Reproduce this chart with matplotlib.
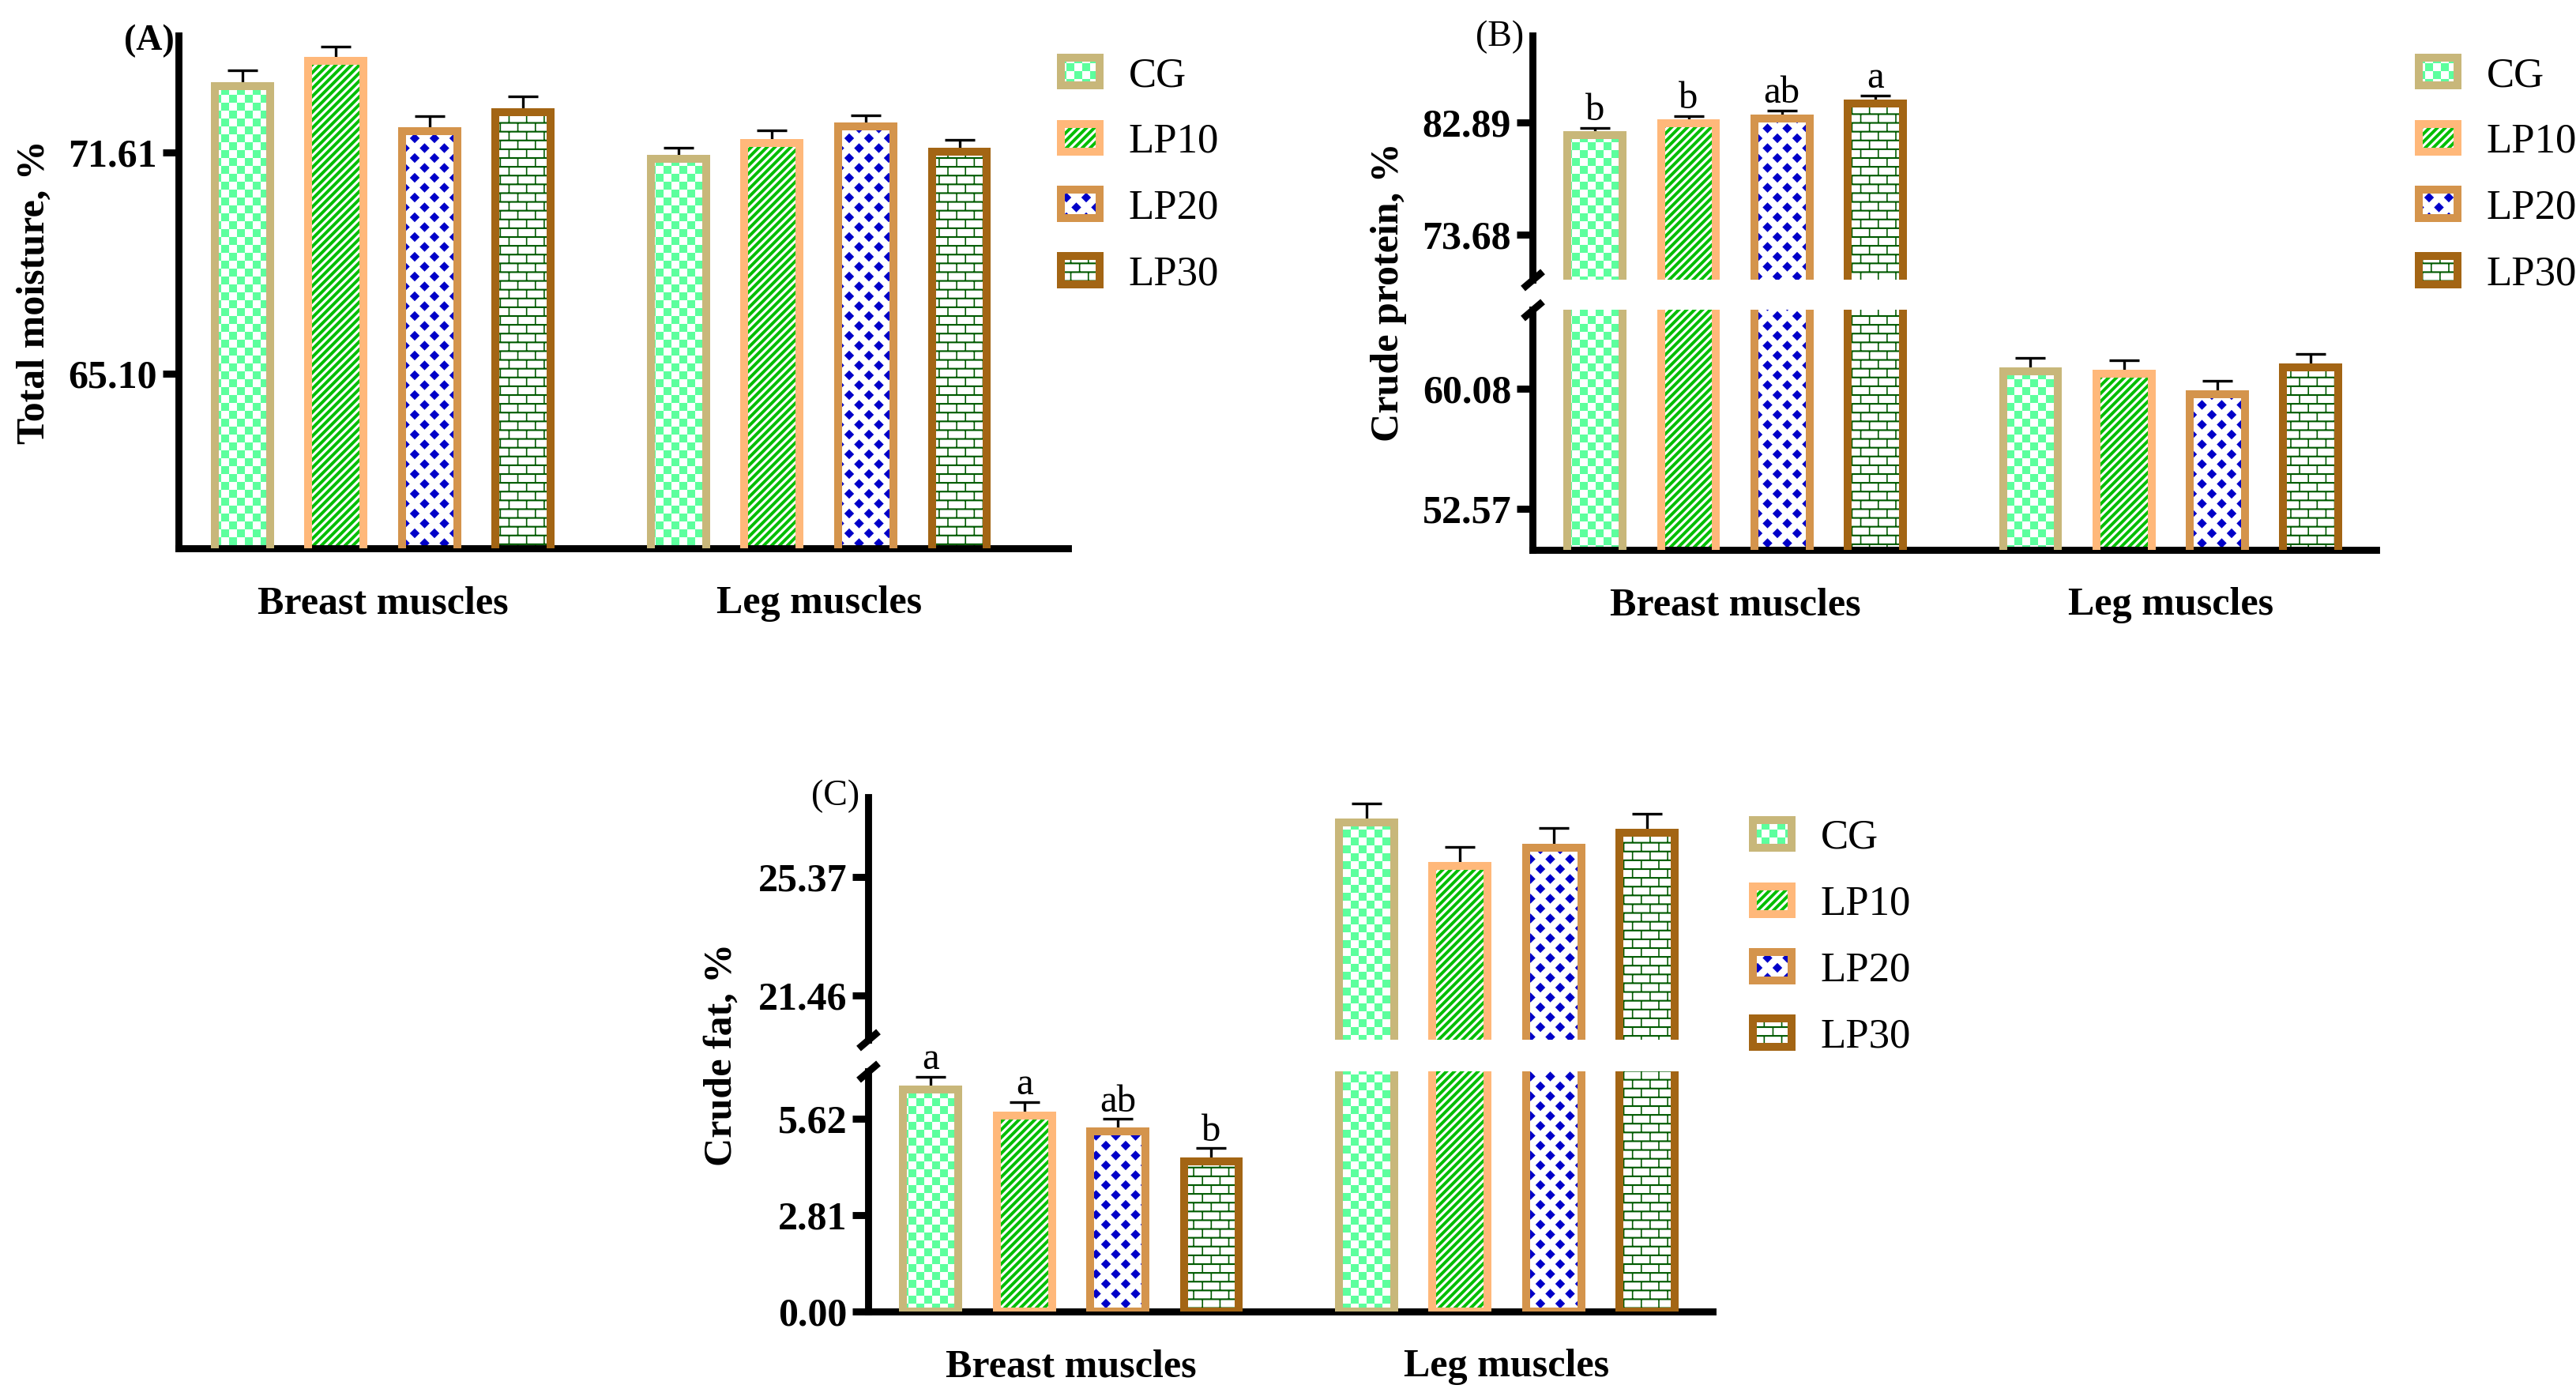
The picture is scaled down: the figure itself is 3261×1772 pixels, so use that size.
import warnings
import numpy as np
import matplotlib
matplotlib.use("Agg")
import matplotlib.pyplot as plt
import matplotlib.hatch as mhatch
from matplotlib.path import Path
from matplotlib.patches import Patch
from matplotlib.legend_handler import HandlerTuple

warnings.filterwarnings("ignore")

# ---- data ----
groups = ["Breast muscles", "Leg muscles"]
series = ["CG", "LP10", "LP20", "LP30"]

moisture_breast = [73.57, 74.31, 72.23, 72.80]
moisture_breast_err = [0.45, 0.42, 0.44, 0.45]
moisture_leg = [71.42, 71.89, 72.37, 71.63]
moisture_leg_err = [0.32, 0.36, 0.32, 0.36]
moisture_ticks = [65.10, 71.61]

protein_breast = [81.85, 82.83, 83.23, 84.41]
protein_breast_err = [0.60, 0.60, 0.64, 0.67]
protein_leg = [61.13, 60.98, 59.71, 61.38]
protein_leg_err = [0.85, 0.86, 0.84, 0.86]
protein_letters = ["b", "b", "ab", "a"]
protein_ticks = [52.57, 60.08, 73.68, 82.89]

fat_breast = [6.46, 5.72, 5.24, 4.38]
fat_breast_err = [0.39, 0.38, 0.37, 0.38]
fat_leg = [27.17, 25.73, 26.34, 26.82]
fat_leg_err = [0.62, 0.63, 0.64, 0.63]
fat_letters = ["a", "a", "ab", "b"]
fat_ticks = [0.00, 2.81, 5.62, 21.46, 25.37]

# ---- style ----
frame_colors = ["#C8B77A", "#FFB87A", "#D4944C", "#A36514"]
fill_colors = ["#5CFF9D", "#00BE00", "#0000C8", "#005A00"]
hatch_codes = ["c", "s", "d", "b"]

W, H = 3262, 1772
DPI = 200
FRAME_LW = 3.6
SPINE_LW = 3.2
BAR_W = 0.59
LEG_OFFSET = 4.66

plt.rcParams["font.family"] = ["Liberation Serif", "DejaVu Serif"]
plt.rcParams["hatch.linewidth"] = 0.01


# ---- custom filled hatch patterns (tile = 1 inch) ----
def rect(x0, y0, x1, y1):
    return [(x0, y0), (x1, y0), (x1, y1), (x0, y1)]


class PolyHatch(mhatch.HatchPatternBase):
    char = None

    def __init__(self, hatch, density):
        self.polys = self.polygons() if self.char in hatch else []
        self.num_vertices = sum(len(p) + 1 for p in self.polys)

    def polygons(self):
        return []

    def set_vertices_and_codes(self, vertices, codes):
        i = 0
        for p in self.polys:
            n = len(p)
            vertices[i:i + n] = p
            vertices[i + n] = p[0]
            codes[i] = Path.MOVETO
            codes[i + 1:i + n] = Path.LINETO
            codes[i + n] = Path.CLOSEPOLY
            i += n + 1


class CheckerHatch(PolyHatch):
    char = "c"

    def polygons(self):
        c = 1 / 20
        return [rect(i * c, j * c, (i + 1) * c, (j + 1) * c)
                for i in range(20) for j in range(20) if (i + j) % 2 == 0]


class StripeHatch(PolyHatch):
    char = "s"

    def polygons(self):
        m = 20
        t = 0.55 / m
        out = []
        for k in range(-m - 2, m + 2):
            c = k / m
            out.append([(-0.05, -0.05 + c), (1.05, 1.05 + c),
                        (1.05, 1.05 + c + t), (-0.05, -0.05 + c + t)])
        return out


class DiamondHatch(PolyHatch):
    char = "d"

    def polygons(self):
        n = 8
        p = 1 / n
        r = 0.031
        out = []
        for i in range(-1, n + 1):
            for j in range(-1, n + 1):
                for cx, cy in ((i * p, j * p), ((i + 0.5) * p, (j + 0.5) * p)):
                    out.append([(cx - r, cy), (cx, cy - r), (cx + r, cy), (cx, cy + r)])
        return out


class BrickHatch(PolyHatch):
    char = "b"

    def polygons(self):
        rows, cols = 18, 9
        h, w = 1 / rows, 1 / cols
        lh, lv = 0.0105, 0.008
        out = []
        for j in range(-1, rows + 1):
            out.append(rect(-0.02, j * h - lh / 2, 1.02, j * h + lh / 2))
        for j in range(rows):
            off = (j % 2) * w / 2
            for i in range(-1, cols + 1):
                x = i * w + off
                out.append(rect(x - lv / 2, j * h, x + lv / 2, (j + 1) * h))
        return out


mhatch._hatch_types.extend([CheckerHatch, StripeHatch, DiamondHatch, BrickHatch])


# ---- helpers ----
def fx(px):
    return px / W


def fy(py):
    return 1 - py / H


def add_axes(left, top, right, bottom):
    return fig.add_axes([fx(left), fy(bottom), fx(right - left), (bottom - top) / H])


def draw_bars(ax, breast, breast_err, leg, leg_err):
    for i in range(4):
        x = np.array([i, i + LEG_OFFSET])
        vals = np.array([breast[i], leg[i]])
        errs = np.array([breast_err[i], leg_err[i]])
        ax.bar(x, vals, width=BAR_W, color="white", edgecolor=fill_colors[i],
               hatch=hatch_codes[i], linewidth=0, zorder=2)
        ax.bar(x, vals, width=BAR_W, facecolor="none", edgecolor=frame_colors[i],
               linewidth=FRAME_LW, zorder=3)
        ax.errorbar(x, vals, yerr=[np.zeros(2), errs], fmt="none", ecolor="black",
                    elinewidth=1.2, capsize=7, capthick=1.2, zorder=1.5)


def style_axes(ax, ticks, bottom=True):
    for s in ["top", "right"]:
        ax.spines[s].set_visible(False)
    ax.spines["left"].set_linewidth(SPINE_LW)
    ax.spines["bottom"].set_linewidth(SPINE_LW)
    ax.spines["bottom"].set_visible(bottom)
    ax.set_yticks(ticks)
    ax.set_yticklabels([f"{t:.2f}" for t in ticks], fontweight="bold", fontsize=18)
    ax.tick_params(axis="y", direction="out", length=7.2, width=3.2, pad=2.5)
    if bottom:
        ax.set_xticks([1.5, LEG_OFFSET + 1.5])
        ax.set_xticklabels(groups, fontweight="bold", fontsize=18)
        ax.tick_params(axis="x", length=0, pad=17)
    else:
        ax.set_xticks([])


def letters(ax, breast, breast_err, labels):
    for i, lab in enumerate(labels):
        ax.annotate(lab, xy=(i, breast[i] + breast_err[i]), xytext=(0, 3.5),
                    textcoords="offset points", ha="center", va="baseline",
                    fontsize=17.5)


def break_marks(ax_top, ax_bot):
    kw = dict(marker=[(-1, -0.85), (1, 0.85)], markersize=9, linestyle="none",
              color="k", mec="k", mew=3.2, clip_on=False)
    ax_top.plot([0], [0], transform=ax_top.transAxes, **kw)
    ax_bot.plot([0], [1], transform=ax_bot.transAxes, **kw)


def legend(ax, left_px, top_px):
    handles = [(Patch(facecolor="white", edgecolor=fill_colors[i], hatch=hatch_codes[i], linewidth=0),
                Patch(facecolor="none", edgecolor=frame_colors[i], linewidth=FRAME_LW))
               for i in range(4)]
    ax.legend(handles, series, handler_map={tuple: HandlerTuple(ndivide=1, pad=0)},
              loc="upper left", bbox_to_anchor=(fx(left_px), fy(top_px)),
              bbox_transform=fig.transFigure, frameon=False, fontsize=19,
              borderpad=0, borderaxespad=0, handlelength=0.93, handleheight=0.66,
              labelspacing=0.68, handletextpad=0.69)


fig = plt.figure(figsize=(W / DPI, H / DPI), dpi=DPI)

# ---- (A) total moisture ----
axA = add_axes(226, 45, 1352, 694)
draw_bars(axA, moisture_breast, moisture_breast_err, moisture_leg, moisture_leg_err)
axA.set_xlim(-0.68, 8.82)
axA.set_ylim(59.95, 75.05)
style_axes(axA, moisture_ticks)
legend(axA, 1343, 72)
fig.text(fx(221), fy(52), "(A)", ha="right", va="center", fontsize=16.5, fontweight="bold")
fig.text(fx(44), fy(370), "Total moisture, %", rotation=90, ha="center", va="center",
         fontsize=18, fontweight="bold")

# ---- (B) crude protein, broken axis ----
axB1 = add_axes(1940, 45, 3008, 354)
axB2 = add_axes(1940, 392, 3008, 696)
for ax in (axB1, axB2):
    draw_bars(ax, protein_breast, protein_breast_err, protein_leg, protein_leg_err)
    ax.set_xlim(-0.67, 8.36)
axB1.set_ylim(70, 90)
axB2.set_ylim(50, 65)
style_axes(axB1, [t for t in protein_ticks if t > 65], bottom=False)
style_axes(axB2, [t for t in protein_ticks if t < 65])
letters(axB1, protein_breast, protein_breast_err, protein_letters)
break_marks(axB1, axB2)
legend(axB1, 3062, 72)
fig.text(fx(1929), fy(47), "(B)", ha="right", va="center", fontsize=16.5)
fig.text(fx(1758), fy(370), "Crude protein, %", rotation=90, ha="center", va="center",
         fontsize=18, fontweight="bold")

# ---- (C) crude fat, broken axis ----
axC1 = add_axes(1099, 1009, 2168, 1316)
axC2 = add_axes(1099, 1356, 2168, 1660)
for ax in (axC1, axC2):
    draw_bars(ax, fat_breast, fat_breast_err, fat_leg, fat_leg_err)
    ax.set_xlim(-0.67, 8.36)
axC1.set_ylim(20, 28)
axC2.set_ylim(0, 7)
style_axes(axC1, [t for t in fat_ticks if t > 7], bottom=False)
style_axes(axC2, [t for t in fat_ticks if t < 7])
letters(axC2, fat_breast, fat_breast_err, fat_letters)
break_marks(axC1, axC2)
legend(axC1, 2219, 1037)
fig.text(fx(1088), fy(1008), "(C)", ha="right", va="center", fontsize=16.5)
fig.text(fx(914), fy(1335), "Crude fat, %", rotation=90, ha="center", va="center",
         fontsize=18, fontweight="bold")

fig.savefig("out.png", dpi=DPI)
